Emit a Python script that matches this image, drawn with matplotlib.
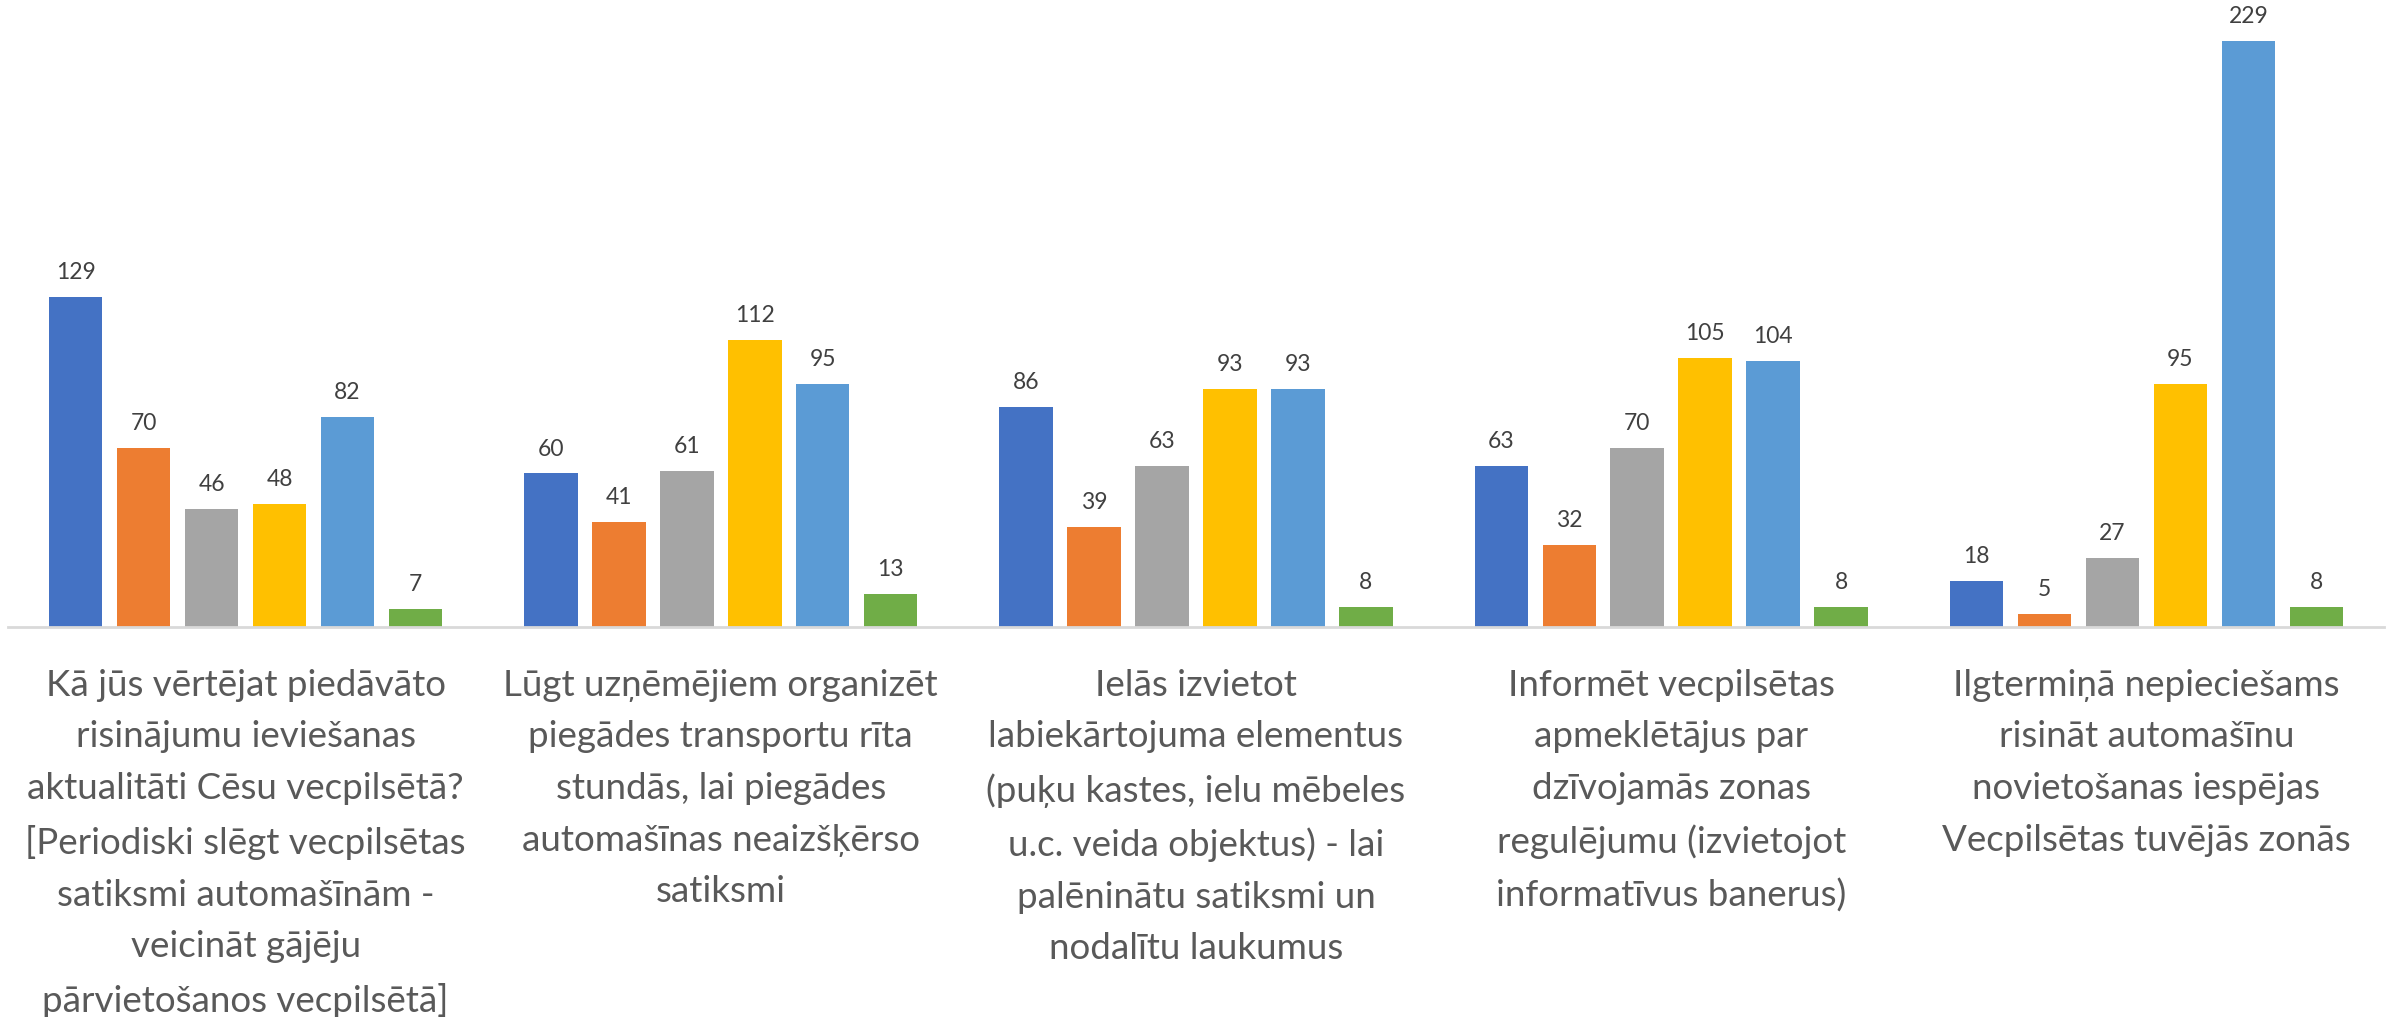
import matplotlib
matplotlib.use("Agg")
import matplotlib.pyplot as plt
import numpy as np

categories = [
    "Kā jūs vērtējat piedāvāto\nrisinājumu ieviešanas\naktualitāti Cēsu vecpilsētā?\n[Periodiski slēgt vecpilsētas\nsatiksmi automašīnām -\nveicināt gājēju\npārvietošanos vecpilsētā]",
    "Lūgt uzņēmējiem organizēt\npiegādes transportu rīta\nstundās, lai piegādes\nautomašīnas neaizšķērso\nsatiksmi",
    "Ielās izvietot\nlabiekārtojuma elementus\n(puķu kastes, ielu mēbeles\nu.c. veida objektus) - lai\npalēninātu satiksmi un\nnodalītu laukumus",
    "Informēt vecpilsētas\napmeklētājus par\ndzīvojamās zonas\nregulējumu (izvietojot\ninformatīvus banerus)",
    "Ilgtermiņā nepieciešams\nrisināt automašīnu\nnovietošanas iespējas\nVecpilsētas tuvējās zonās",
]
series1 = [129, 60, 86, 63, 18]
series2 = [70, 41, 39, 32, 5]
series3 = [46, 61, 63, 70, 27]
series4 = [48, 112, 93, 105, 95]
series5 = [82, 95, 93, 104, 229]
series6 = [7, 13, 8, 8, 8]

series = [series1, series2, series3, series4, series5, series6]
colors = ["#4472C4", "#ED7D31", "#A5A5A5", "#FFC000", "#5B9BD5", "#70AD47"]

plt.rcParams['font.family'] = ['Lato', 'DejaVu Sans']

fig = plt.figure(figsize=(23.92, 10.17), dpi=100)
ax = fig.add_axes([8/2392, 1 - 627/1017, (2384-8)/2392, 627/1017])

x = np.arange(len(categories))
pitch = 0.143
width = 0.1125
for i, (vals, c) in enumerate(zip(series, colors)):
    pos = x + (i - 2.5) * pitch
    bars = ax.bar(pos, vals, width=width, color=c, zorder=2)
    for b, v in zip(bars, vals):
        ax.annotate(str(v), (b.get_x() + b.get_width()/2, v), xytext=(0, 10),
                    textcoords="offset points", ha="center", va="bottom",
                    fontsize=16.5, color="#404040")

ax.set_xlim(-0.5, len(categories) - 0.5)
ax.set_ylim(0, 245)
ax.set_yticks([])
ax.set_xticks(x)
ax.set_xticklabels(categories, fontsize=26.5, color="#595959", linespacing=1.69)
ax.tick_params(axis='x', length=0, pad=30)
for s in ["top", "right", "left"]:
    ax.spines[s].set_visible(False)
ax.spines["bottom"].set_color("#D9D9D9")
ax.spines["bottom"].set_linewidth(2)

fig.savefig("out.png", dpi=100)
